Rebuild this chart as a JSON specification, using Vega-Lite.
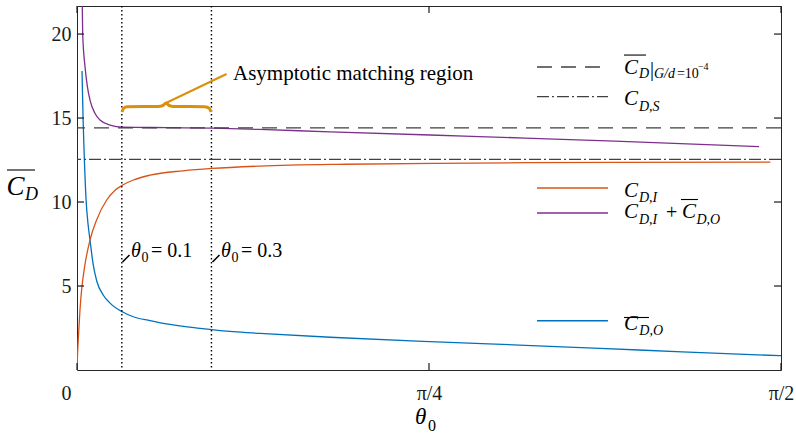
{
  "$schema": "https://vega.github.io/schema/vega-lite/v6.json",
  "width": 704,
  "height": 364,
  "autosize": {"type": "none"},
  "padding": {"left": 77, "top": 6, "right": 15, "bottom": 64},
  "background": "white",
  "config": {
    "view": {"stroke": "#262626", "strokeWidth": 1},
    "font": "Liberation Serif, Times New Roman, DejaVu Serif, serif",
    "text": {"font": "Liberation Serif, Times New Roman, DejaVu Serif, serif"},
    "axis": {
      "labelFont": "Liberation Serif, Times New Roman, DejaVu Serif, serif",
      "labelFontSize": 20,
      "labelColor": "#1a1a1a",
      "grid": false,
      "title": null,
      "ticks": false,
      "domain": false
    }
  },
  "datasets": {
    "curves": [
      {"series": "O", "theta": 0.0112, "value": 17.8},
      {"series": "O", "theta": 0.0135, "value": 15.0},
      {"series": "O", "theta": 0.0156, "value": 13.2},
      {"series": "O", "theta": 0.0201, "value": 10.2},
      {"series": "O", "theta": 0.025, "value": 8.6},
      {"series": "O", "theta": 0.029, "value": 7.74},
      {"series": "O", "theta": 0.036, "value": 6.3},
      {"series": "O", "theta": 0.044, "value": 5.3},
      {"series": "O", "theta": 0.0588, "value": 4.45},
      {"series": "O", "theta": 0.0737, "value": 3.98},
      {"series": "O", "theta": 0.102, "value": 3.45},
      {"series": "O", "theta": 0.1257, "value": 3.17},
      {"series": "O", "theta": 0.163, "value": 2.94},
      {"series": "O", "theta": 0.2, "value": 2.74},
      {"series": "O", "theta": 0.2746, "value": 2.48},
      {"series": "O", "theta": 0.349, "value": 2.28},
      {"series": "O", "theta": 0.408, "value": 2.18},
      {"series": "O", "theta": 0.565, "value": 1.95},
      {"series": "O", "theta": 0.788, "value": 1.69},
      {"series": "O", "theta": 1.0, "value": 1.47},
      {"series": "O", "theta": 1.167, "value": 1.29},
      {"series": "O", "theta": 1.35, "value": 1.08},
      {"series": "O", "theta": 1.5708, "value": 0.85},
      {"series": "I", "theta": 0.0, "value": 0.0},
      {"series": "I", "theta": 0.001, "value": 0.8},
      {"series": "I", "theta": 0.003, "value": 1.9},
      {"series": "I", "theta": 0.0067, "value": 3.6},
      {"series": "I", "theta": 0.0104, "value": 4.8},
      {"series": "I", "theta": 0.0179, "value": 6.3},
      {"series": "I", "theta": 0.029, "value": 7.74},
      {"series": "I", "theta": 0.044, "value": 8.95},
      {"series": "I", "theta": 0.0662, "value": 10.12},
      {"series": "I", "theta": 0.085, "value": 10.7},
      {"series": "I", "theta": 0.102, "value": 11.01},
      {"series": "I", "theta": 0.1257, "value": 11.31},
      {"series": "I", "theta": 0.163, "value": 11.6},
      {"series": "I", "theta": 0.237, "value": 11.86},
      {"series": "I", "theta": 0.301, "value": 12.0},
      {"series": "I", "theta": 0.408, "value": 12.14},
      {"series": "I", "theta": 0.6, "value": 12.25},
      {"series": "I", "theta": 0.8, "value": 12.3},
      {"series": "I", "theta": 1.0, "value": 12.34},
      {"series": "I", "theta": 1.2, "value": 12.36},
      {"series": "I", "theta": 1.547, "value": 12.38},
      {"series": "IO", "theta": 0.0112, "value": 22.6},
      {"series": "IO", "theta": 0.0127, "value": 20.0},
      {"series": "IO", "theta": 0.0179, "value": 18.05},
      {"series": "IO", "theta": 0.023, "value": 16.9},
      {"series": "IO", "theta": 0.029, "value": 16.07},
      {"series": "IO", "theta": 0.04, "value": 15.28},
      {"series": "IO", "theta": 0.0513, "value": 14.88},
      {"series": "IO", "theta": 0.0737, "value": 14.58},
      {"series": "IO", "theta": 0.102, "value": 14.46},
      {"series": "IO", "theta": 0.2, "value": 14.43},
      {"series": "IO", "theta": 0.301, "value": 14.4},
      {"series": "IO", "theta": 0.408, "value": 14.32},
      {"series": "IO", "theta": 0.565, "value": 14.18},
      {"series": "IO", "theta": 0.788, "value": 13.99},
      {"series": "IO", "theta": 1.0, "value": 13.81},
      {"series": "IO", "theta": 1.2, "value": 13.62},
      {"series": "IO", "theta": 1.522, "value": 13.3}
    ],
    "refs": [
      {"name": "Gd", "value": 14.42},
      {"name": "S", "value": 12.54}
    ],
    "verticals": [{"theta": 0.1}, {"theta": 0.3}],
    "yticks": [
      {"side": "left", "a": 0, "b": 0.0156, "v": 5},
      {"side": "left", "a": 0, "b": 0.0156, "v": 10},
      {"side": "left", "a": 0, "b": 0.0156, "v": 15},
      {"side": "left", "a": 0, "b": 0.0156, "v": 20},
      {"side": "right", "a": 1.5552, "b": 1.5708, "v": 5},
      {"side": "right", "a": 1.5552, "b": 1.5708, "v": 10},
      {"side": "right", "a": 1.5552, "b": 1.5708, "v": 15},
      {"side": "right", "a": 1.5552, "b": 1.5708, "v": 20}
    ],
    "xticks": [
      {"side": "bottom", "a": 0, "b": 0.417, "v": 0},
      {"side": "bottom", "a": 0, "b": 0.417, "v": 0.785398},
      {"side": "bottom", "a": 0, "b": 0.417, "v": 1.570796},
      {"side": "top", "a": 21.253, "b": 21.67, "v": 0},
      {"side": "top", "a": 21.253, "b": 21.67, "v": 0.785398},
      {"side": "top", "a": 21.253, "b": 21.67, "v": 1.570796}
    ],
    "legend": [
      {"series": "Gd", "x1": 1.0263, "x2": 1.1847, "y": 18.039},
      {"series": "S", "x1": 1.0263, "x2": 1.1847, "y": 16.271},
      {"series": "I", "x1": 1.0263, "x2": 1.1847, "y": 10.835},
      {"series": "IO", "x1": 1.0263, "x2": 1.1847, "y": 9.347},
      {"series": "O", "x1": 1.0263, "x2": 1.1847, "y": 2.935}
    ],
    "bars": [
      {"x1": 1.2204, "x2": 1.2695, "y": 18.75},
      {"x1": 1.3476, "x2": 1.3855, "y": 10.15},
      {"x1": 1.2204, "x2": 1.2762, "y": 3.126},
      {"x1": -0.1562, "x2": -0.0937, "y": 11.907}
    ],
    "slashes": [
      {"x1": 0.1015, "y1": 6.43, "x2": 0.1171, "y2": 6.846},
      {"x1": 0.3023, "y1": 6.43, "x2": 0.3179, "y2": 6.846}
    ],
    "brace": [
      {"x": 0.1004, "y": 15.36},
      {"x": 0.1037, "y": 15.568},
      {"x": 0.1116, "y": 15.675},
      {"x": 0.1807, "y": 15.687},
      {"x": 0.1919, "y": 15.747},
      {"x": 0.1986, "y": 15.896},
      {"x": 0.2053, "y": 15.747},
      {"x": 0.2164, "y": 15.687},
      {"x": 0.2856, "y": 15.675},
      {"x": 0.2956, "y": 15.568},
      {"x": 0.299, "y": 15.36}
    ],
    "pointer": [{"x1": 0.1986, "y1": 15.896, "x2": 0.3336, "y2": 17.622}],
    "labels": [
      {"t": "C", "x": 1.2204, "y": 17.622, "k": "main"},
      {"t": "D", "x": 1.2539, "y": 17.354, "k": "sub"},
      {"t": "|", "x": 1.2784, "y": 17.503, "k": "roman"},
      {"t": "G/d", "x": 1.2874, "y": 17.354, "k": "sub"},
      {"t": "=10", "x": 1.3387, "y": 17.354, "k": "romansub"},
      {"t": "−4", "x": 1.3855, "y": 17.86, "k": "sup"},
      {"t": "C", "x": 1.2204, "y": 15.777, "k": "main"},
      {"t": "D,S", "x": 1.2539, "y": 15.42, "k": "sub"},
      {"t": "C", "x": 1.2204, "y": 10.317, "k": "main"},
      {"t": "D,I", "x": 1.2539, "y": 10.002, "k": "sub"},
      {"t": "C", "x": 1.2204, "y": 9.02, "k": "main"},
      {"t": "D,I", "x": 1.2539, "y": 8.692, "k": "sub"},
      {"t": "+", "x": 1.3142, "y": 8.99, "k": "roman"},
      {"t": "C", "x": 1.3498, "y": 9.02, "k": "main"},
      {"t": "D,O", "x": 1.3822, "y": 8.692, "k": "sub"},
      {"t": "C", "x": 1.2204, "y": 2.352, "k": "main"},
      {"t": "D,O", "x": 1.2546, "y": 2.113, "k": "sub"},
      {"t": "Asymptotic matching region", "x": 0.3481, "y": 17.265, "k": "note"},
      {"t": "θ", "x": 0.1205, "y": 6.698, "k": "theta"},
      {"t": "0", "x": 0.1439, "y": 6.43, "k": "romansub"},
      {"t": "= 0.1", "x": 0.1651, "y": 6.698, "k": "roman"},
      {"t": "θ", "x": 0.3213, "y": 6.698, "k": "theta"},
      {"t": "0", "x": 0.3447, "y": 6.43, "k": "romansub"},
      {"t": "= 0.3", "x": 0.3659, "y": 6.698, "k": "roman"},
      {"t": "C", "x": -0.1573, "y": 10.418, "k": "title"},
      {"t": "D", "x": -0.116, "y": 10.121, "k": "titlesub"},
      {"t": "θ", "x": 0.7541, "y": -3.215, "k": "xtitle"},
      {"t": "0", "x": 0.7831, "y": -3.632, "k": "xtitlesub"}
    ]
  },
  "layer": [
    {
      "data": {"name": "curves"},
      "mark": {"type": "line", "strokeWidth": 1.3, "clip": true, "interpolate": "monotone"},
      "encoding": {
        "x": {"field": "theta", "type": "quantitative", "scale": {"domain": [0, 1.5708], "nice": false, "zero": false},
          "axis": {"orient": "bottom", "values": [0, 0.785398, 1.570796],
            "labelExpr": "datum.value < 0.1 ? '0' : (datum.value < 1 ? 'π/4' : 'π/2')",
            "labelFlush": false, "labelPadding": 13,
            "labelOffset": {"condition": {"test": "datum.value < 0.1", "value": -11}, "value": 0}}},
        "y": {"field": "value", "type": "quantitative", "scale": {"domain": [0, 21.67], "nice": false, "zero": false},
          "axis": {"orient": "left", "values": [5, 10, 15, 20], "labelPadding": 6}},
        "color": {"field": "series", "type": "nominal", "scale": {"domain": ["O", "I", "IO"], "range": ["#0072BD", "#D95319", "#7E2F8E"]}, "legend": null},
        "detail": {"field": "series"}
      }
    },
    {
      "data": {"name": "verticals"},
      "mark": {"type": "rule", "color": "#000000", "strokeWidth": 1.4, "strokeDash": [1.5, 2.5]},
      "encoding": {
        "x": {"field": "theta", "type": "quantitative"}
      }
    },
    {
      "data": {"name": "refs"},
      "transform": [{"filter": "datum.name === 'Gd'"}],
      "mark": {"type": "rule", "color": "#404040", "strokeWidth": 1.3, "strokeDash": [15, 9]},
      "encoding": {
        "y": {"field": "value", "type": "quantitative"}
      }
    },
    {
      "data": {"name": "refs"},
      "transform": [{"filter": "datum.name === 'S'"}],
      "mark": {"type": "rule", "color": "#404040", "strokeWidth": 1.3, "strokeDash": [12, 3, 2, 3]},
      "encoding": {
        "y": {"field": "value", "type": "quantitative"}
      }
    },
    {
      "data": {"name": "yticks"},
      "mark": {"type": "rule", "color": "#1a1a1a", "strokeWidth": 1.2},
      "encoding": {
        "x": {"field": "a", "type": "quantitative"},
        "x2": {"field": "b"},
        "y": {"field": "v", "type": "quantitative"}
      }
    },
    {
      "data": {"name": "xticks"},
      "mark": {"type": "rule", "color": "#1a1a1a", "strokeWidth": 1.2},
      "encoding": {
        "x": {"field": "v", "type": "quantitative"},
        "y": {"field": "a", "type": "quantitative"},
        "y2": {"field": "b"}
      }
    },
    {
      "data": {"name": "legend"},
      "transform": [{"filter": "datum.series === 'Gd'"}],
      "mark": {"type": "rule", "color": "#404040", "strokeWidth": 1.3, "strokeDash": [15, 9]},
      "encoding": {
        "x": {"field": "x1", "type": "quantitative"},
        "x2": {"field": "x2"},
        "y": {"field": "y", "type": "quantitative"}
      }
    },
    {
      "data": {"name": "legend"},
      "transform": [{"filter": "datum.series === 'S'"}],
      "mark": {"type": "rule", "color": "#404040", "strokeWidth": 1.3, "strokeDash": [12, 3, 2, 3]},
      "encoding": {
        "x": {"field": "x1", "type": "quantitative"},
        "x2": {"field": "x2"},
        "y": {"field": "y", "type": "quantitative"}
      }
    },
    {
      "data": {"name": "legend"},
      "transform": [{"filter": "datum.series === 'I' || datum.series === 'IO' || datum.series === 'O'"}],
      "mark": {"type": "rule", "strokeWidth": 1.5},
      "encoding": {
        "x": {"field": "x1", "type": "quantitative"},
        "x2": {"field": "x2"},
        "y": {"field": "y", "type": "quantitative"},
        "color": {"field": "series", "type": "nominal", "legend": null}
      }
    },
    {
      "data": {"name": "bars"},
      "mark": {"type": "rule", "color": "#000000", "strokeWidth": 1.1},
      "encoding": {
        "x": {"field": "x1", "type": "quantitative"},
        "x2": {"field": "x2"},
        "y": {"field": "y", "type": "quantitative"}
      }
    },
    {
      "data": {"name": "slashes"},
      "mark": {"type": "rule", "color": "#000000", "strokeWidth": 1.6},
      "encoding": {
        "x": {"field": "x1", "type": "quantitative"},
        "x2": {"field": "x2"},
        "y": {"field": "y1", "type": "quantitative"},
        "y2": {"field": "y2"}
      }
    },
    {
      "data": {"name": "brace"},
      "mark": {"type": "line", "color": "#DB900C", "strokeWidth": 3, "interpolate": "monotone"},
      "encoding": {
        "x": {"field": "x", "type": "quantitative"},
        "y": {"field": "y", "type": "quantitative"}
      }
    },
    {
      "data": {"name": "pointer"},
      "mark": {"type": "rule", "color": "#DB900C", "strokeWidth": 2},
      "encoding": {
        "x": {"field": "x1", "type": "quantitative"},
        "x2": {"field": "x2"},
        "y": {"field": "y1", "type": "quantitative"},
        "y2": {"field": "y2"}
      }
    },
    {
      "data": {"name": "labels"},
      "transform": [{"filter": "datum.k === 'main'"}],
      "mark": {"type": "text", "align": "left", "baseline": "alphabetic", "fontStyle": "italic", "fontSize": 21, "color": "#000000"},
      "encoding": {
        "x": {"field": "x", "type": "quantitative"},
        "y": {"field": "y", "type": "quantitative"},
        "text": {"field": "t"}
      }
    },
    {
      "data": {"name": "labels"},
      "transform": [{"filter": "datum.k === 'sub'"}],
      "mark": {"type": "text", "align": "left", "baseline": "alphabetic", "fontStyle": "italic", "fontSize": 14, "color": "#000000"},
      "encoding": {
        "x": {"field": "x", "type": "quantitative"},
        "y": {"field": "y", "type": "quantitative"},
        "text": {"field": "t"}
      }
    },
    {
      "data": {"name": "labels"},
      "transform": [{"filter": "datum.k === 'roman'"}],
      "mark": {"type": "text", "align": "left", "baseline": "alphabetic", "fontSize": 20, "color": "#000000"},
      "encoding": {
        "x": {"field": "x", "type": "quantitative"},
        "y": {"field": "y", "type": "quantitative"},
        "text": {"field": "t"}
      }
    },
    {
      "data": {"name": "labels"},
      "transform": [{"filter": "datum.k === 'romansub'"}],
      "mark": {"type": "text", "align": "left", "baseline": "alphabetic", "fontSize": 14, "color": "#000000"},
      "encoding": {
        "x": {"field": "x", "type": "quantitative"},
        "y": {"field": "y", "type": "quantitative"},
        "text": {"field": "t"}
      }
    },
    {
      "data": {"name": "labels"},
      "transform": [{"filter": "datum.k === 'sup'"}],
      "mark": {"type": "text", "align": "left", "baseline": "alphabetic", "fontSize": 10, "color": "#000000"},
      "encoding": {
        "x": {"field": "x", "type": "quantitative"},
        "y": {"field": "y", "type": "quantitative"},
        "text": {"field": "t"}
      }
    },
    {
      "data": {"name": "labels"},
      "transform": [{"filter": "datum.k === 'note'"}],
      "mark": {"type": "text", "align": "left", "baseline": "alphabetic", "fontSize": 21, "color": "#000000"},
      "encoding": {
        "x": {"field": "x", "type": "quantitative"},
        "y": {"field": "y", "type": "quantitative"},
        "text": {"field": "t"}
      }
    },
    {
      "data": {"name": "labels"},
      "transform": [{"filter": "datum.k === 'theta'"}],
      "mark": {"type": "text", "align": "left", "baseline": "alphabetic", "fontStyle": "italic", "fontSize": 20, "color": "#000000"},
      "encoding": {
        "x": {"field": "x", "type": "quantitative"},
        "y": {"field": "y", "type": "quantitative"},
        "text": {"field": "t"}
      }
    },
    {
      "data": {"name": "labels"},
      "transform": [{"filter": "datum.k === 'title'"}],
      "mark": {"type": "text", "align": "left", "baseline": "alphabetic", "fontStyle": "italic", "fontSize": 27, "color": "#000000"},
      "encoding": {
        "x": {"field": "x", "type": "quantitative"},
        "y": {"field": "y", "type": "quantitative"},
        "text": {"field": "t"}
      }
    },
    {
      "data": {"name": "labels"},
      "transform": [{"filter": "datum.k === 'titlesub'"}],
      "mark": {"type": "text", "align": "left", "baseline": "alphabetic", "fontStyle": "italic", "fontSize": 18, "color": "#000000"},
      "encoding": {
        "x": {"field": "x", "type": "quantitative"},
        "y": {"field": "y", "type": "quantitative"},
        "text": {"field": "t"}
      }
    },
    {
      "data": {"name": "labels"},
      "transform": [{"filter": "datum.k === 'xtitle'"}],
      "mark": {"type": "text", "align": "left", "baseline": "alphabetic", "fontStyle": "italic", "fontSize": 23, "color": "#000000"},
      "encoding": {
        "x": {"field": "x", "type": "quantitative"},
        "y": {"field": "y", "type": "quantitative"},
        "text": {"field": "t"}
      }
    },
    {
      "data": {"name": "labels"},
      "transform": [{"filter": "datum.k === 'xtitlesub'"}],
      "mark": {"type": "text", "align": "left", "baseline": "alphabetic", "fontSize": 16, "color": "#000000"},
      "encoding": {
        "x": {"field": "x", "type": "quantitative"},
        "y": {"field": "y", "type": "quantitative"},
        "text": {"field": "t"}
      }
    }
  ]
}
